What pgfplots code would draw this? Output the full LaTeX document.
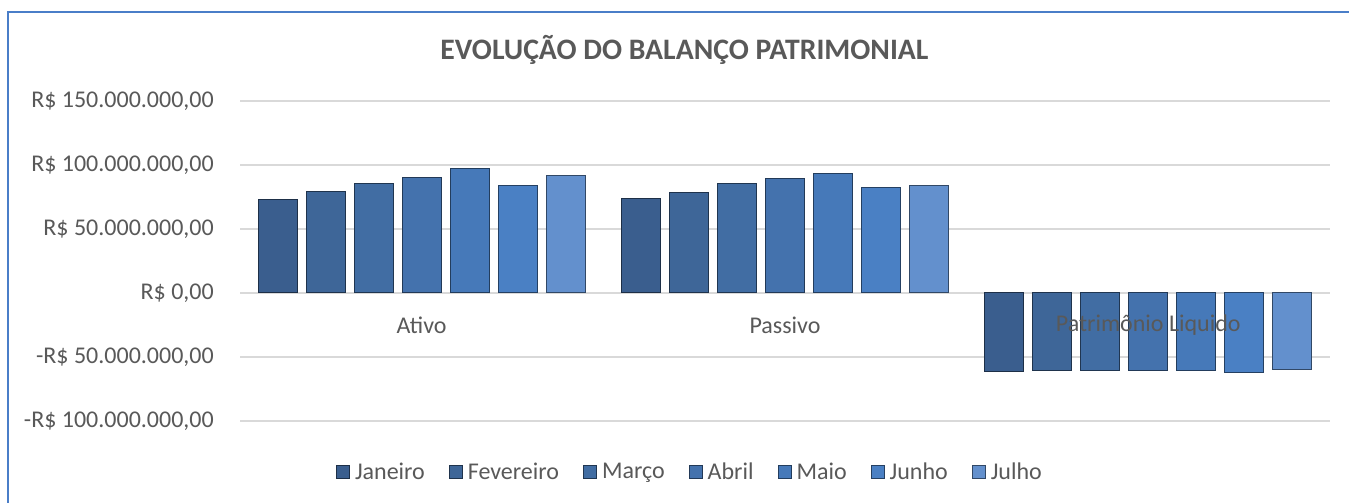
\documentclass[border=0pt]{standalone}
\usepackage{pgfplots}
\pgfplotsset{compat=1.18}
\usepackage{fontspec}
\setmainfont{Carlito}
\definecolor{txt}{HTML}{595959}
\definecolor{gridc}{HTML}{D9D9D9}
\definecolor{bordc}{HTML}{4A7EC8}
\definecolor{cJan}{HTML}{3A5E8E}
\definecolor{cFev}{HTML}{3E6698}
\definecolor{cMar}{HTML}{416DA3}
\definecolor{cAbr}{HTML}{4472AD}
\definecolor{cMai}{HTML}{4679B9}
\definecolor{cJun}{HTML}{4A80C4}
\definecolor{cJul}{HTML}{6390CD}
\newcommand{\tf}{\fontsize{24bp}{28bp}\selectfont}
\begin{document}
\begin{tikzpicture}
\useasboundingbox (0,0) rectangle (1349bp,503bp);
\fill[white] (0,0) rectangle (1349bp,503bp);
\draw[bordc, line width=2bp] (8bp,-20bp) -- (8bp,491bp) -- (1370bp,491bp);
\node[txt, font=\fontsize{29.7bp}{34bp}\selectfont\bfseries] at (684.5bp,453bp) {EVOLUÇÃO DO BALANÇO PATRIMONIAL};
\begin{axis}[
  at={(240bp,82bp)}, anchor=south west, scale only axis,
  width=1090bp, height=320bp,
  ybar=9bp, bar width=39bp,
  xmin=-0.5, xmax=2.5,
  ymin=-100000000, ymax=150000000,
  ytick={-100000000,-50000000,0,50000000,100000000,150000000},
  yticklabels={{-R\$ 100.000.000,00},{-R\$ 50.000.000,00},{R\$ 0,00},{R\$ 50.000.000,00},{R\$ 100.000.000,00},{R\$ 150.000.000,00}},
  scaled y ticks=false,
  xtick=\empty,
  axis line style={draw=none},
  ymajorgrids, grid style={gridc, line width=1.5bp},
  major tick length=0pt,
  yticklabel style={txt, font=\tf, inner sep=0pt, xshift=-26bp},
  legend style={at={(0.4128,-0.159)}, anchor=center, draw=none, fill=none,
    legend columns=-1, font=\tf, text=txt,
    /tikz/every odd column/.append style={column sep=3bp},
    /tikz/every even column/.append style={column sep=22bp}},
  legend image code/.code={\draw[#1] (0bp,-7bp) rectangle (13bp,6bp);},
]
\addplot[fill=cJan, draw=cJan!50!black, line width=1bp] coordinates {(0,73200000) (1,74000000) (2,-61200000)};
\addplot[fill=cFev, draw=cFev!50!black, line width=1bp] coordinates {(0,79400000) (1,78600000) (2,-60400000)};
\addplot[fill=cMar, draw=cMar!50!black, line width=1bp] coordinates {(0,85200000) (1,85700000) (2,-60400000)};
\addplot[fill=cAbr, draw=cAbr!50!black, line width=1bp] coordinates {(0,90600000) (1,89600000) (2,-60400000)};
\addplot[fill=cMai, draw=cMai!50!black, line width=1bp] coordinates {(0,97400000) (1,93500000) (2,-60400000)};
\addplot[fill=cJun, draw=cJun!50!black, line width=1bp] coordinates {(0,84100000) (1,82600000) (2,-62200000)};
\addplot[fill=cJul, draw=cJul!50!black, line width=1bp] coordinates {(0,91900000) (1,83600000) (2,-59600000)};
\legend{Janeiro,Fevereiro,Março,Abril,Maio,Junho,Julho}
\node[txt, font=\tf] at (axis cs:0,0) [yshift=-32bp] {Ativo};
\node[txt, font=\tf] at (axis cs:1,0) [yshift=-32bp] {Passivo};
\node[txt, font=\tf] at (axis cs:2,0) [yshift=-32bp] {Patrimônio Liquido};
\end{axis}
\end{tikzpicture}
\end{document}
